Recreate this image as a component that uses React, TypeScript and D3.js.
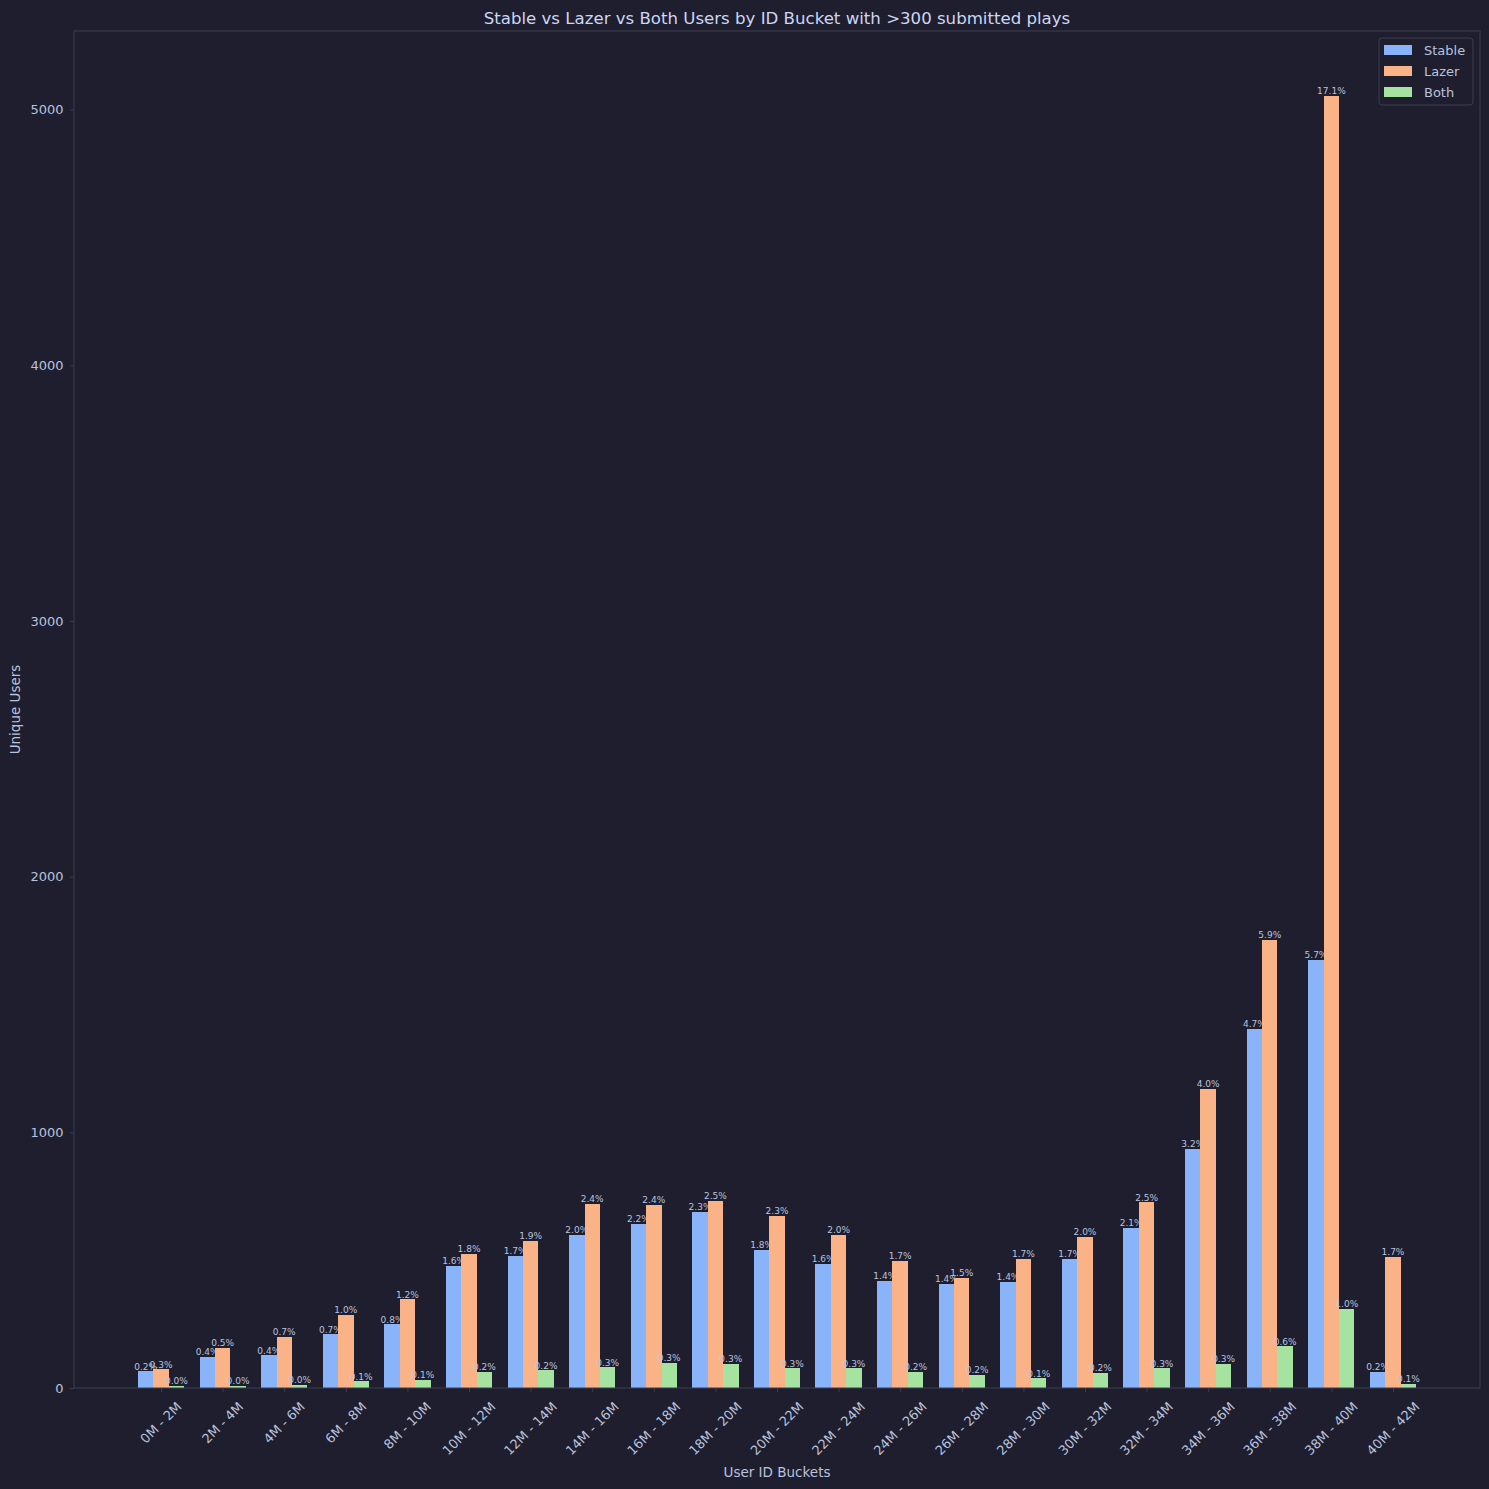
import React, { useEffect, useRef } from 'react';
import * as d3 from 'd3';

const buckets = [
  '0M - 2M', '2M - 4M', '4M - 6M', '6M - 8M', '8M - 10M', '10M - 12M', '12M - 14M',
  '14M - 16M', '16M - 18M', '18M - 20M', '20M - 22M', '22M - 24M', '24M - 26M', '26M - 28M',
  '28M - 30M', '30M - 32M', '32M - 34M', '34M - 36M', '36M - 38M', '38M - 40M', '40M - 42M',
];

const stableUsers = [66, 123, 129, 211, 250, 479, 517, 599, 642, 689, 540, 486, 419, 407, 415, 505, 626, 936, 1406, 1676, 63];
const lazerUsers = [74, 158, 200, 286, 348, 525, 576, 720, 717, 732, 673, 599, 497, 431, 505, 591, 726, 1171, 1754, 5055, 513];
const bothUsers = [9, 8, 13, 27, 33, 63, 70, 82, 98, 94, 78, 78, 63, 51, 39, 59, 78, 94, 164, 309, 16];

const stablePct = ['0.2%', '0.4%', '0.4%', '0.7%', '0.8%', '1.6%', '1.7%', '2.0%', '2.2%', '2.3%', '1.8%', '1.6%', '1.4%', '1.4%', '1.4%', '1.7%', '2.1%', '3.2%', '4.7%', '5.7%', '0.2%'];
const lazerPct = ['0.3%', '0.5%', '0.7%', '1.0%', '1.2%', '1.8%', '1.9%', '2.4%', '2.4%', '2.5%', '2.3%', '2.0%', '1.7%', '1.5%', '1.7%', '2.0%', '2.5%', '4.0%', '5.9%', '17.1%', '1.7%'];
const bothPct = ['0.0%', '0.0%', '0.0%', '0.1%', '0.1%', '0.2%', '0.2%', '0.3%', '0.3%', '0.3%', '0.3%', '0.3%', '0.2%', '0.2%', '0.1%', '0.2%', '0.3%', '0.3%', '0.6%', '1.0%', '0.1%'];

const yTicks = [0, 1000, 2000, 3000, 4000, 5000];

const W = 1489;
const H = 1489;
const margin = { top: 31, right: 9, bottom: 101, left: 74 };
const BG = '#1e1e2e';
const FG = '#bac2de';
const SPINE = '#3a3c50';
const FONT = '"DejaVu Sans", sans-serif';

const App: React.FC = () => {
  const ref = useRef<SVGSVGElement | null>(null);

  useEffect(() => {
    if (!ref.current) return;
    const svg = d3.select(ref.current);
    svg.selectAll('*').remove();

    const series = [
      { name: 'Stable', values: stableUsers, labels: stablePct, color: '#89b4fa', off: -1 },
      { name: 'Lazer', values: lazerUsers, labels: lazerPct, color: '#fab387', off: 0 },
      { name: 'Both', values: bothUsers, labels: bothPct, color: '#a6e3a1', off: 1 },
    ];

    const bw = 0.25;
    const lo = -1.5 * bw;
    const hi = buckets.length - 1 + 1.5 * bw;
    const pad = (hi - lo) * 0.05;
    const x = d3.scaleLinear().domain([lo - pad, hi + pad]).range([margin.left, W - margin.right]);
    const ymax = d3.max(series.flatMap(s => s.values)) || 0;
    const y = d3.scaleLinear().domain([0, ymax * 1.05]).range([H - margin.bottom, margin.top]);

    svg.append('rect').attr('width', W).attr('height', H).attr('fill', BG);

    // bars
    series.forEach(s => {
      const g = svg.append('g');
      g.selectAll('rect')
        .data(s.values)
        .enter()
        .append('rect')
        .attr('x', (d, i) => x(i + s.off * bw - bw / 2))
        .attr('width', x(bw) - x(0))
        .attr('y', d => y(d))
        .attr('height', d => y(0) - y(d))
        .attr('fill', s.color)
        .attr('shape-rendering', 'crispEdges');

      g.selectAll('text')
        .data(s.values)
        .enter()
        .append('text')
        .attr('x', (d, i) => x(i + s.off * bw))
        .attr('y', d => y(d) - 1.5)
        .attr('text-anchor', 'middle')
        .attr('font-family', FONT)
        .attr('font-size', 9)
        .attr('fill', FG)
        .text((d, i) => s.labels[i]);
    });

    // spines
    svg.append('rect')
      .attr('x', margin.left)
      .attr('y', margin.top)
      .attr('width', W - margin.right - margin.left)
      .attr('height', H - margin.bottom - margin.top)
      .attr('fill', 'none')
      .attr('stroke', SPINE)
      .attr('stroke-width', 1);

    // y axis
    const yAxis = svg.append('g')
      .attr('transform', `translate(${margin.left},0)`)
      .call(d3.axisLeft(y).tickValues(yTicks).tickFormat(d3.format('d')).tickSize(4).tickPadding(6.5));
    yAxis.select('.domain').remove();
    yAxis.selectAll('line').attr('stroke', SPINE);
    yAxis.selectAll('text').attr('fill', FG).attr('font-size', 13).attr('font-family', FONT);

    // x axis ticks
    const xAxis = svg.append('g')
      .attr('transform', `translate(0,${H - margin.bottom})`)
      .call(d3.axisBottom(x).tickValues(d3.range(buckets.length)).tickFormat(() => '').tickSize(4));
    xAxis.select('.domain').remove();
    xAxis.selectAll('line').attr('stroke', SPINE);

    // rotated x labels, centred under each tick like matplotlib's rotation=45
    const labelTop = H - margin.bottom + 11;
    buckets.forEach((b, i) => {
      const t = svg.append('text')
        .attr('text-anchor', 'middle')
        .attr('dominant-baseline', 'central')
        .attr('font-family', FONT)
        .attr('font-size', 13)
        .attr('fill', FG)
        .text(b);
      const len = (t.node() as SVGTextElement).getComputedTextLength();
      const cy = labelTop + (len + 15) / (2 * Math.SQRT2);
      t.attr('transform', `translate(${x(i)},${cy}) rotate(-45)`);
    });

    // title and axis labels
    svg.append('text')
      .attr('x', (margin.left + W - margin.right) / 2)
      .attr('y', 24)
      .attr('text-anchor', 'middle')
      .attr('font-family', FONT)
      .attr('font-size', 16.6)
      .attr('fill', '#cdd6f4')
      .text('Stable vs Lazer vs Both Users by ID Bucket with >300 submitted plays');

    svg.append('text')
      .attr('x', (margin.left + W - margin.right) / 2)
      .attr('y', 1477)
      .attr('text-anchor', 'middle')
      .attr('font-family', FONT)
      .attr('font-size', 13.5)
      .attr('fill', FG)
      .text('User ID Buckets');

    svg.append('text')
      .attr('transform', `translate(20,${(margin.top + H - margin.bottom) / 2}) rotate(-90)`)
      .attr('text-anchor', 'middle')
      .attr('font-family', FONT)
      .attr('font-size', 13.5)
      .attr('fill', FG)
      .text('Unique Users');

    // legend
    const lg = svg.append('g').attr('transform', 'translate(1379,38)');
    lg.append('rect')
      .attr('width', 94)
      .attr('height', 67)
      .attr('rx', 3)
      .attr('fill', BG)
      .attr('stroke', SPINE)
      .attr('stroke-width', 1);
    series.forEach((s, i) => {
      const row = lg.append('g').attr('transform', `translate(0,${12 + i * 21})`);
      row.append('rect').attr('x', 5).attr('y', -5).attr('width', 28).attr('height', 10).attr('fill', s.color);
      row.append('text')
        .attr('x', 45)
        .attr('y', 0)
        .attr('dominant-baseline', 'central')
        .attr('font-family', FONT)
        .attr('font-size', 13)
        .attr('fill', FG)
        .text(s.name);
    });
  }, []);

  return (
    <svg
      ref={ref}
      width={W}
      height={H}
      style={{ position: 'absolute', left: 0, top: 0, display: 'block' }}
    />
  );
};

export default App;
